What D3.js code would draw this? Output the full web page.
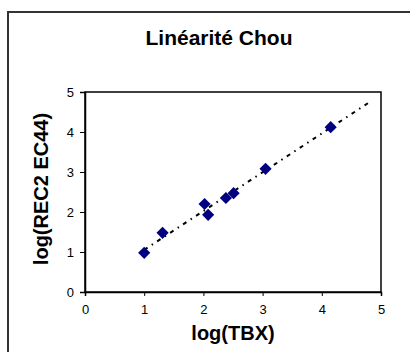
<!DOCTYPE html>
<html>
<head>
<meta charset="utf-8">
<script src="https://cdn.jsdelivr.net/npm/d3@7"></script>
<style>
  body { margin: 0; background: #fff; }
  svg { display: block; font-family: 'Liberation Sans', Arial, sans-serif; }
</style>
</head>
<body>
<svg id="chart" width="410" height="352"></svg>
<script>
// data
const logTBX = [1.00, 1.31, 2.02, 2.08, 2.38, 2.51, 3.05, 4.15];
const logREC = [0.98, 1.48, 2.20, 1.93, 2.35, 2.47, 3.08, 4.12];
const xTicks = [0, 1, 2, 3, 4, 5];
const yTicks = [0, 1, 2, 3, 4, 5];
const trendEnd = 4.85;

const margin = { top: 92, right: 29, bottom: 60, left: 85 };
const width = 410 - margin.left - margin.right;
const height = 352 - margin.top - margin.bottom;

const svg = d3.select('#chart');

// outer chart frame (runs off the right and bottom edges)
svg.append('rect')
    .attr('x', 8).attr('y', 12)
    .attr('width', 420).attr('height', 360)
    .attr('fill', 'none')
    .attr('stroke', '#333')
    .attr('stroke-width', 2);

svg.append('text')
    .attr('x', 219).attr('y', 45)
    .attr('text-anchor', 'middle')
    .style('font-size', '21px')
    .style('font-weight', 'bold')
    .text('Linéarité Chou');

const g = svg.append('g')
    .attr('transform', `translate(${margin.left},${margin.top})`);

const x = d3.scaleLinear().domain([0, 5]).range([0, width]);
const y = d3.scaleLinear().domain([0, 5]).range([height, 0]);

g.append('rect')
    .attr('width', width).attr('height', height)
    .attr('fill', 'none')
    .attr('stroke', '#000')
    .attr('stroke-width', 1.5);

const xAxis = g.append('g')
    .attr('transform', `translate(0,${height})`)
    .call(d3.axisBottom(x).tickValues(xTicks).tickFormat(d3.format('d')).tickSize(4).tickPadding(9));

const yAxis = g.append('g')
    .call(d3.axisLeft(y).tickValues(yTicks).tickFormat(d3.format('d')).tickSize(5).tickPadding(6));

[xAxis, yAxis].forEach(a => {
    a.select('.domain').attr('stroke', '#000').attr('stroke-width', 1.5);
    a.selectAll('.tick line').attr('stroke', '#000');
    a.selectAll('.tick text')
        .style('font-size', '13px')
        .style('font-family', "'Liberation Sans', Arial, sans-serif")
        .attr('fill', '#000');
});

// linear trend line (least squares), extended forward
const mx = d3.mean(logTBX), my = d3.mean(logREC);
const slope = d3.sum(logTBX, (v, i) => (v - mx) * (logREC[i] - my)) /
              d3.sum(logTBX, v => (v - mx) * (v - mx));
const intercept = my - slope * mx;
const x0 = d3.min(logTBX);

g.append('line')
    .attr('x1', x(x0)).attr('y1', y(intercept + slope * x0))
    .attr('x2', x(trendEnd)).attr('y2', y(intercept + slope * trendEnd))
    .attr('stroke', '#000')
    .attr('stroke-width', 2)
    .attr('stroke-dasharray', '4,5,1.5,5');

const diamond = d3.symbol().type(d3.symbolSquare).size(74);

g.append('g')
    .selectAll('path')
    .data(logTBX.map((v, i) => [v, logREC[i]]))
    .enter()
    .append('path')
        .attr('d', diamond)
        .attr('transform', d => `translate(${x(d[0])},${y(d[1])}) rotate(45)`)
        .attr('fill', '#000080');

svg.append('text')
    .attr('x', margin.left + width / 2).attr('y', 340)
    .attr('text-anchor', 'middle')
    .style('font-size', '20px')
    .style('font-weight', 'bold')
    .text('log(TBX)');

svg.append('text')
    .attr('transform', 'translate(48,189) rotate(-90)')
    .attr('text-anchor', 'middle')
    .style('font-size', '20px')
    .style('font-weight', 'bold')
    .text('log(REC2 EC44)');
</script>
</body>
</html>
